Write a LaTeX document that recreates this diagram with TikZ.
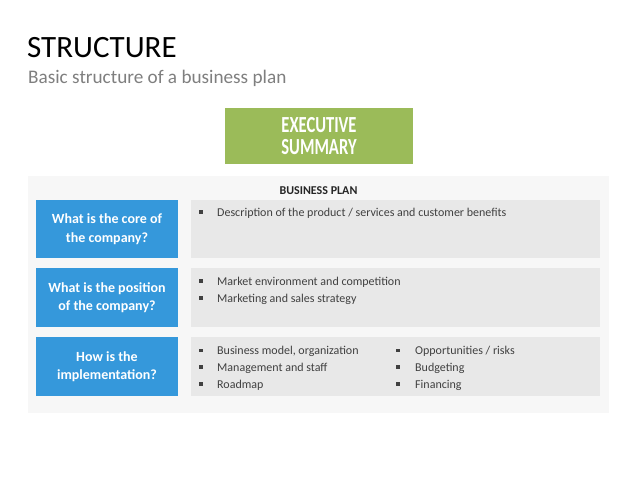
\documentclass[tikz,border=0pt]{standalone}
\usepackage{fontspec}
\setmainfont{Carlito}
\newfontfamily\condfont[FakeStretch=0.72]{Carlito Bold}
\definecolor{subcol}{HTML}{7F7F7F}
\definecolor{greencol}{HTML}{9BBB59}
\definecolor{bluecol}{HTML}{3598DB}
\definecolor{rowcol}{HTML}{E8E8E8}
\definecolor{panelcol}{HTML}{F7F7F7}
\definecolor{textcol}{HTML}{404040}
\definecolor{headcol}{HTML}{262626}
\begin{document}
\begin{tikzpicture}[x=1pt,y=-1pt,
  box/.style={rectangle, inner sep=0pt, draw=none},
  bluebox/.style={box, fill=bluecol, text=white, align=center, minimum width=142pt,
    font=\bfseries\fontsize{14}{18.5}\selectfont},
  rowbox/.style={box, fill=rowcol, minimum width=409pt},
  itemtext/.style={anchor=base west, inner sep=0pt, text=textcol, font=\fontsize{12}{14}\selectfont},
  bulletsq/.style={rectangle, fill=textcol, inner sep=0pt, minimum size=3.2pt}
]
\useasboundingbox (0,0) rectangle (638,479);
\fill[white] (0,0) rectangle (638,479);

% title
\node[anchor=base west, inner sep=0pt, font=\fontsize{31}{31}\selectfont] (title) at (27,57) {STRUCTURE};
\node[anchor=base west, inner sep=0pt, text=subcol, font=\fontsize{19.2}{21}\selectfont] (subtitle) at (28,83) {Basic structure of a business plan};

% executive summary
\node[box, fill=greencol, text=white, align=center, minimum width=188pt, minimum height=56pt,
  font=\condfont\fontsize{23}{21.7}\selectfont] (exec) at (319,136) {EXECUTIVE\\SUMMARY};

% panel
\node[box, fill=panelcol, minimum width=581pt, minimum height=237pt] (panel) at (318.5,294.5) {};
\node[inner sep=0pt, text=headcol, font=\bfseries\fontsize{12}{14}\selectfont] (bp) at (318.5,191) {BUSINESS PLAN};

% rows
\node[bluebox, minimum height=58pt] (q1) at (107,229) {What is the core of\\the company?};
\node[bluebox, minimum height=59pt] (q2) at (107,297.5) {What is the position\\of the company?};
\node[bluebox, minimum height=59pt] (q3) at (107,366.5) {How is the\\implementation?};

\node[rowbox, minimum height=58pt] (r1) at (395.5,229) {};
\node[rowbox, minimum height=59pt] (r2) at (395.5,297.5) {};
\node[rowbox, minimum height=59pt] (r3) at (395.5,366.5) {};

% row 1 items
\node[bulletsq] (b11) at (201,212) {};
\node[itemtext] (t11) at (217,216) {Description of the product / services and customer benefits};

% row 2 items
\node[bulletsq] (b21) at (201,281) {};
\node[itemtext] (t21) at (217,285) {Market environment and competition};
\node[bulletsq] (b22) at (201,298) {};
\node[itemtext] (t22) at (217,302) {Marketing and sales strategy};

% row 3 items
\node[bulletsq] (b31) at (201,350.5) {};
\node[itemtext] (t31) at (217,354.5) {Business model, organization};
\node[bulletsq] (b32) at (201,367) {};
\node[itemtext] (t32) at (217,371) {Management and staff};
\node[bulletsq] (b33) at (201,384) {};
\node[itemtext] (t33) at (217,388) {Roadmap};

\node[bulletsq] (b34) at (398,350.5) {};
\node[itemtext] (t34) at (415,354.5) {Opportunities / risks};
\node[bulletsq] (b35) at (398,367) {};
\node[itemtext] (t35) at (415,371) {Budgeting};
\node[bulletsq] (b36) at (398,384) {};
\node[itemtext] (t36) at (415,388) {Financing};
\end{tikzpicture}
\end{document}
